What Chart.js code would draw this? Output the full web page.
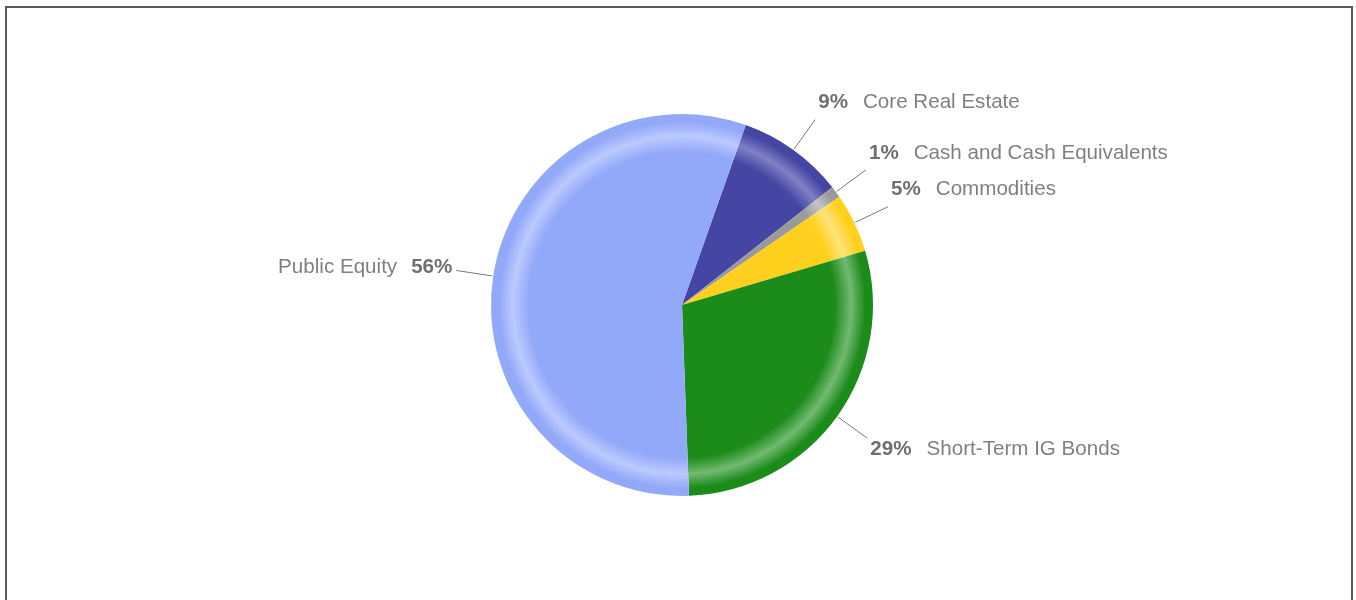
<!DOCTYPE html>
<html>
<head>
<meta charset="utf-8">
<script src="https://cdn.jsdelivr.net/npm/chart.js@4/dist/chart.umd.min.js"></script>
<style>
  html,body{margin:0;padding:0;background:#fff;overflow:hidden;}
  #frame{position:absolute;left:5px;top:6px;width:1348px;height:700px;box-sizing:border-box;border:2px solid #5a5a5a;}
  #allocChart{position:absolute;left:0;top:0;}
</style>
</head>
<body>
<div id="frame"></div>
<canvas id="allocChart" width="1356" height="600"></canvas>
<script>
const labels = ["Core Real Estate","Cash and Cash Equivalents","Commodities","Short-Term IG Bonds","Public Equity"];
const values = [9,1,5,29,56];

// base fill + lighter rim band for each slice
const baseColors = ["#4546a3","#9a9a9a","#ffd11e","#1b8b1a","#92a8f8"];
const rimColors  = ["#8081c4","#c4c4c4","#ffe37a","#72ba71","#bccaff"];

const RADIUS = 191;

function sliceFill(c){
  const i = c.dataIndex;
  const area = c.chart.chartArea;
  if(!area) return baseColors[i];
  const cx = (area.left+area.right)/2, cy = (area.top+area.bottom)/2;
  const g = c.chart.ctx.createRadialGradient(cx,cy,0,cx,cy,RADIUS);
  g.addColorStop(0,baseColors[i]);
  g.addColorStop(0.80,baseColors[i]);
  g.addColorStop(0.885,rimColors[i]);
  g.addColorStop(0.96,baseColors[i]);
  g.addColorStop(1,baseColors[i]);
  return g;
}

// leader lines + "NN%  Label" text outside each slice
const callouts = {
  id:"callouts",
  afterDatasetsDraw(chart){
    const ctx = chart.ctx;
    const meta = chart.getDatasetMeta(0);
    const pctFont = "bold 20.6px 'Liberation Sans', Arial, sans-serif";
    const nameFont = "20.6px 'Liberation Sans', Arial, sans-serif";
    ctx.save();
    meta.data.forEach((arc,i)=>{
      const mid = (arc.startAngle+arc.endAngle)/2;
      const r = arc.outerRadius;
      const x0 = arc.x+Math.cos(mid)*(r+1), y0 = arc.y+Math.sin(mid)*(r+1);
      const x1 = arc.x+Math.cos(mid)*r*1.195, y1 = arc.y+Math.sin(mid)*r*1.195;

      ctx.strokeStyle = "#7a7a7a";
      ctx.lineWidth = 1;
      ctx.beginPath();
      ctx.moveTo(x0,y0);
      ctx.lineTo(x1,y1);
      ctx.stroke();

      const pct = values[i]+"%";
      ctx.textBaseline = "middle";
      ctx.font = pctFont;
      const pw = ctx.measureText(pct).width;
      const right = x1 >= arc.x;
      if(right){
        const ty = y1 + (y1 < arc.y ? -17 : 11);
        ctx.textAlign = "left";
        ctx.fillStyle = "#6f6f6f";
        ctx.fillText(pct,x1+3,ty);
        ctx.font = nameFont;
        ctx.fillStyle = "#808080";
        ctx.fillText(labels[i],x1+3+pw+15,ty);
      }else{
        const ty = y1 - 3;
        ctx.textAlign = "right";
        ctx.fillStyle = "#6f6f6f";
        ctx.fillText(pct,x1-4,ty);
        ctx.font = nameFont;
        ctx.fillStyle = "#808080";
        ctx.fillText(labels[i],x1-4-pw-14,ty);
      }
    });
    ctx.restore();
  }
};

new Chart(document.getElementById("allocChart"),{
  type:"pie",
  data:{
    labels:labels,
    datasets:[{data:values,backgroundColor:sliceFill,borderWidth:0}]
  },
  options:{
    responsive:false,
    animation:false,
    rotation:19.5,
    radius:RADIUS,
    layout:{padding:{left:8,right:0,top:10,bottom:0}},
    plugins:{legend:{display:false},tooltip:{enabled:false}}
  },
  plugins:[callouts]
});
</script>
</body>
</html>
